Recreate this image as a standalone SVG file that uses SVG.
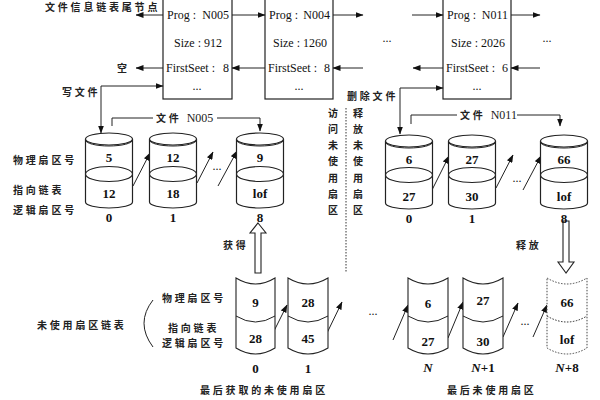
<svg xmlns="http://www.w3.org/2000/svg" width="600" height="400" viewBox="0 0 600 400">
<style>
.ln{fill:none;stroke:#222;stroke-width:1}
.arr{fill:none;stroke:#222;stroke-width:1;marker-end:url(#ah)}
.box{fill:#fff;stroke:#222;stroke-width:1.2}
.cyl{fill:#fff;stroke:#222;stroke-width:1.2}
.cell{fill:#fff;stroke:#222;stroke-width:1.1}
.dcell{fill:#fff;stroke:#444;stroke-width:1;stroke-dasharray:1.5,1.5}
.t{font-family:"Liberation Serif","Noto Sans CJK SC",serif;font-size:12px;fill:#111}
.n{font-family:"Liberation Serif",serif;font-size:13px;font-weight:bold;fill:#111;text-anchor:middle}
.cn{font-family:"Noto Sans CJK SC","Liberation Sans",sans-serif;font-size:10px;font-weight:bold;fill:#222;letter-spacing:2.8px}
.cv{font-family:"Noto Sans CJK SC","Liberation Sans",sans-serif;font-size:10px;font-weight:bold;fill:#222;text-anchor:middle}
.c{text-anchor:middle}
.e{text-anchor:end}
</style>
<defs>
<marker id="ah" markerWidth="8" markerHeight="6" refX="7.5" refY="3" orient="auto" markerUnits="userSpaceOnUse"><path d="M0,0 L8,3 L0,6 z" fill="#111"/></marker>
</defs>
<rect width="600" height="400" fill="#fff"/>

<!-- file info nodes -->
<g id="node-n005">
<rect class="box" x="163" y="-3" width="69" height="102"/>
<text class="t" x="167" y="19">Prog :</text><text class="t e" x="229" y="19">N005</text>
<text class="t c" x="198" y="47">Size : 912</text>
<text class="t" x="166" y="72">FirstSeet :</text><text class="t e" x="229" y="72">8</text>
<text class="t c" x="197" y="90">...</text>
</g>
<g id="node-n004">
<rect class="box" x="265" y="-3" width="68" height="102"/>
<text class="t" x="269" y="19">Prog :</text><text class="t e" x="330" y="19">N004</text>
<text class="t c" x="300" y="47">Size : 1260</text>
<text class="t" x="268" y="72">FirstSeet :</text><text class="t e" x="330" y="72">8</text>
<text class="t c" x="299" y="90">...</text>
</g>
<g id="node-n011">
<rect class="box" x="443" y="-3" width="68" height="102"/>
<text class="t" x="447" y="19">Prog :</text><text class="t e" x="508" y="19">N011</text>
<text class="t c" x="478" y="47">Size : 2026</text>
<text class="t" x="446" y="72">FirstSeet :</text><text class="t e" x="508" y="72">6</text>
<text class="t c" x="477" y="90">...</text>
</g>

<g id="labels-top">
<text class="cn" x="45" y="11">文件信息链表尾节点</text>
<text class="cn" x="117" y="72">空</text>
<text class="cn" x="62" y="96">写文件</text>
<text class="cn" x="347" y="100">删除文件</text>
<text class="t c" x="387" y="42">...</text>
<text class="t c" x="547" y="42">...</text>
</g>

<!-- connectors -->
<g id="connectors">
<line class="arr" x1="163" y1="15" x2="136" y2="15"/>
<line class="arr" x1="163" y1="68" x2="136" y2="68"/>
<line class="arr" x1="232" y1="15" x2="265" y2="15"/>
<line class="arr" x1="333" y1="15" x2="363" y2="15"/>
<line class="arr" x1="412" y1="15" x2="443" y2="15"/>
<line class="arr" x1="511" y1="15" x2="540" y2="15"/>
<line class="arr" x1="265" y1="68" x2="232" y2="68"/>
<line class="arr" x1="363" y1="68" x2="333" y2="68"/>
<line class="arr" x1="443" y1="68" x2="413" y2="68"/>
<line class="arr" x1="540" y1="68" x2="511" y2="68"/>
<path class="arr" d="M101,86 H163"/>
<path class="arr" d="M101,86 V133"/>
<path class="arr" d="M400,88 H443"/>
<path class="arr" d="M400,88 V134"/>
<path class="arr" d="M112,126 V118 H260 V131"/>
<path class="arr" d="M411,124 V115 H560 V126"/>
<line class="arr" x1="133" y1="186" x2="150" y2="153"/>
<line class="arr" x1="197" y1="183" x2="213" y2="152"/>
<line class="arr" x1="218" y1="186" x2="237" y2="151"/>
<line class="arr" x1="432" y1="190" x2="449" y2="156"/>
<line class="arr" x1="496" y1="188" x2="513" y2="155"/>
<line class="arr" x1="523" y1="190" x2="541" y2="156"/>
<line class="arr" x1="273" y1="333" x2="287" y2="305"/>
<line class="arr" x1="327" y1="333" x2="342" y2="302"/>
<line class="arr" x1="393" y1="340" x2="408" y2="305"/>
<line class="arr" x1="448" y1="338" x2="463" y2="302"/>
<line class="arr" x1="503" y1="337" x2="518" y2="303"/>
<line class="arr" x1="533" y1="337" x2="547" y2="305"/>
<path d="M258,223 L266,233 L261,233 L261,273 L255,273 L255,233 L250,233 Z" fill="#fff" stroke="#222" stroke-width="1.1"/>
<path d="M566,273 L558,262 L563,262 L563,221 L569,221 L569,262 L574,262 Z" fill="#fff" stroke="#222" stroke-width="1.1"/>
</g>

<rect x="153" y="112" width="64" height="12" fill="#fff"/>
<text class="cn" x="156" y="122">文件 <tspan font-family="Liberation Serif" font-size="12" font-weight="normal" letter-spacing="0">N005</tspan></text>
<rect x="457" y="109" width="60" height="12" fill="#fff"/>
<text class="cn" x="460" y="119">文件 <tspan font-family="Liberation Serif" font-size="12" font-weight="normal" letter-spacing="0">N011</tspan></text>

<!-- left file sectors -->
<g id="cyl-l0">
<path class="cyl" d="M85.5,139 V202 A23.5,6 0 0 0 132.5,202 V139"/>
<ellipse class="cyl" cx="109" cy="139" rx="23.5" ry="6"/>
<path class="ln" d="M85.5,140 A23.5,6 0 0 0 132.5,140" stroke-width="1.6"/>
<ellipse class="cyl" cx="109" cy="174" rx="23.5" ry="7.5"/>
<text class="n" x="109" y="162">5</text><text class="n" x="109" y="198">12</text>
<text class="n" x="109" y="222">0</text>
</g>
<g id="cyl-l1">
<path class="cyl" d="M149.5,139 V202 A23.5,6 0 0 0 196.5,202 V139"/>
<ellipse class="cyl" cx="173" cy="139" rx="23.5" ry="6"/>
<path class="ln" d="M149.5,140 A23.5,6 0 0 0 196.5,140" stroke-width="1.6"/>
<ellipse class="cyl" cx="173" cy="174" rx="23.5" ry="7.5"/>
<text class="n" x="173" y="162">12</text><text class="n" x="173" y="198">18</text>
<text class="n" x="173" y="222">1</text>
</g>
<g id="cyl-l8">
<path class="cyl" d="M236.5,139 V202 A23.5,6 0 0 0 283.5,202 V139"/>
<ellipse class="cyl" cx="260" cy="139" rx="23.5" ry="6"/>
<path class="ln" d="M236.5,140 A23.5,6 0 0 0 283.5,140" stroke-width="1.6"/>
<ellipse class="cyl" cx="260" cy="174" rx="23.5" ry="7.5"/>
<text class="n" x="260" y="162">9</text><text class="n" x="260" y="198">lof</text>
<text class="n" x="260" y="222">8</text>
</g>
<text class="t c" x="217" y="170">...</text>

<!-- right file sectors -->
<g id="cyl-r0">
<path class="cyl" d="M385.5,141 V203 A23.5,6 0 0 0 432.5,203 V141"/>
<ellipse class="cyl" cx="409" cy="141" rx="23.5" ry="6"/>
<path class="ln" d="M385.5,142 A23.5,6 0 0 0 432.5,142" stroke-width="1.6"/>
<ellipse class="cyl" cx="409" cy="175" rx="23.5" ry="7.5"/>
<text class="n" x="409" y="164">6</text><text class="n" x="409" y="201">27</text>
<text class="n" x="409" y="223">0</text>
</g>
<g id="cyl-r1">
<path class="cyl" d="M448.5,141 V203 A23.5,6 0 0 0 495.5,203 V141"/>
<ellipse class="cyl" cx="472" cy="141" rx="23.5" ry="6"/>
<path class="ln" d="M448.5,142 A23.5,6 0 0 0 495.5,142" stroke-width="1.6"/>
<ellipse class="cyl" cx="472" cy="175" rx="23.5" ry="7.5"/>
<text class="n" x="472" y="164">27</text><text class="n" x="472" y="201">30</text>
<text class="n" x="472" y="223">1</text>
</g>
<g id="cyl-r8">
<path class="cyl" d="M540.5,141 V203 A23.5,6 0 0 0 587.5,203 V141"/>
<ellipse class="cyl" cx="564" cy="141" rx="23.5" ry="6"/>
<path class="ln" d="M540.5,142 A23.5,6 0 0 0 587.5,142" stroke-width="1.6"/>
<ellipse class="cyl" cx="564" cy="175" rx="23.5" ry="7.5"/>
<text class="n" x="564" y="164">66</text><text class="n" x="564" y="201">lof</text>
<text class="n" x="564" y="223">8</text>
</g>
<text class="t c" x="517" y="182">...</text>

<g id="labels-mid">
<text class="cn" x="13" y="164">物理扇区号</text>
<text class="cn" x="13" y="194">指向链表</text>
<text class="cn" x="13" y="214">逻辑扇区号</text>
<text class="cv" x="333" y="117">访</text><text class="cv" x="333" y="133">问</text><text class="cv" x="333" y="149">未</text><text class="cv" x="333" y="165">使</text><text class="cv" x="333" y="182">用</text><text class="cv" x="333" y="198">扇</text><text class="cv" x="333" y="214">区</text>
<text class="cv" x="358" y="117">释</text><text class="cv" x="358" y="133">放</text><text class="cv" x="358" y="149">未</text><text class="cv" x="358" y="165">使</text><text class="cv" x="358" y="182">用</text><text class="cv" x="358" y="198">扇</text><text class="cv" x="358" y="214">区</text>
<line x1="346" y1="108" x2="346" y2="273" stroke="#333" stroke-width="1" stroke-dasharray="1.5,1.5"/>
<text class="cn" x="223" y="249">获得</text>
<text class="cn" x="516" y="249">释放</text>
</g>

<!-- unused sector list -->
<g id="cell-0">
<path class="cell" d="M236,278 Q255.5,290 275,278 V348 Q255.5,360 236,348 Z"/>
<path class="ln" d="M236,316 Q255.5,328 275,316"/>
<text class="n" x="255.5" y="307">9</text><text class="n" x="255.5" y="343">28</text>
<text class="n" x="255.5" y="373">0</text>
</g>
<g id="cell-1">
<path class="cell" d="M288,278 Q308,290 328,278 V348 Q308,360 288,348 Z"/>
<path class="ln" d="M288,316 Q308,328 328,316"/>
<text class="n" x="308" y="307">28</text><text class="n" x="308" y="343">45</text>
<text class="n" x="308" y="373">1</text>
</g>
<g id="cell-n">
<path class="cell" d="M408,278 Q428,290 448,278 V348 Q428,360 408,348 Z"/>
<path class="ln" d="M408,316 Q428,328 448,316"/>
<text class="n" x="428" y="308">6</text><text class="n" x="428" y="346">27</text>
<text class="n" x="428" y="372" font-style="italic">N</text>
</g>
<g id="cell-n1">
<path class="cell" d="M463,278 Q483,290 503,278 V348 Q483,360 463,348 Z"/>
<path class="ln" d="M463,316 Q483,328 503,316"/>
<text class="n" x="483" y="305">27</text><text class="n" x="483" y="346">30</text>
<text class="n" x="483" y="372"><tspan font-style="italic">N</tspan>+1</text>
</g>
<g id="cell-n8">
<path class="dcell" d="M547,278 Q567,290 587,278 V348 Q567,360 547,348 Z"/>
<path class="ln" d="M547,316 Q567,328 587,316" stroke-dasharray="1.5,1.5" stroke="#444"/>
<text class="n" x="567" y="307">66</text><text class="n" x="567" y="344">lof</text>
<text class="n" x="567" y="372"><tspan font-style="italic">N</tspan>+8</text>
</g>
<text class="t c" x="373" y="315">...</text>
<text class="t c" x="525" y="325">...</text>

<g id="labels-bottom">
<text class="cn" x="37" y="329">未使用扇区链表</text>
<path class="ln" d="M153,300 Q135,323 153,347"/>
<text class="cn" x="162" y="302">物理扇区号</text>
<text class="cn" x="168" y="332">指向链表</text>
<text class="cn" x="162" y="347">逻辑扇区号</text>
<text class="cn" x="200" y="394">最后获取的未使用扇区</text>
<text class="cn" x="447" y="394">最后未使用扇区</text>
</g>
</svg>
